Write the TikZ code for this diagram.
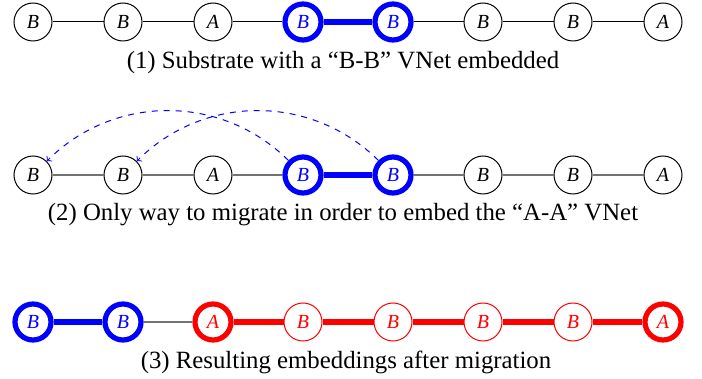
\documentclass[tikz,border=0pt]{standalone}
\usepackage{fontspec}
\setmainfont{Liberation Serif}
\usetikzlibrary{positioning}

\tikzset{
  vnode/.style={circle,draw=black,line width=0.5pt,minimum size=19pt,inner sep=0pt,font=\fontsize{10}{12}\selectfont\itshape},
  bnode/.style={vnode,draw=blue,text=blue,line width=2.6pt,minimum size=18pt},
  anode/.style={vnode,draw=red,text=red,line width=2.6pt,minimum size=18pt},
  rnode/.style={vnode,draw=red,text=red},
  slink/.style={black,line width=0.5pt},
  glink/.style={black!55,line width=0.6pt},
  blink/.style={blue,line width=2.6pt},
  rlink/.style={red,line width=2.6pt},
  mlink/.style={blue,dashed,line width=0.5pt,->},
  caption/.style={font=\fontsize{12.4}{15}\selectfont,text=black,anchor=center}
}

\begin{document}
\begin{tikzpicture}[x=0.5pt,y=-0.5pt]
\useasboundingbox (0,0) rectangle (702,379);

% (1) substrate with B-B embedded
\node[vnode] (a1) at (33,22) {B};
\node[vnode] (a2) at (123,22) {B};
\node[vnode] (a3) at (213,22) {A};
\node[bnode] (a4) at (303,22) {B};
\node[bnode] (a5) at (393,22) {B};
\node[vnode] (a6) at (483,22) {B};
\node[vnode] (a7) at (573,22) {B};
\node[vnode] (a8) at (663,22) {A};
\draw[slink] (a1) -- (a2);
\draw[slink] (a2) -- (a3);
\draw[slink] (a3) -- (a4);
\draw[blink] (a4) -- (a5);
\draw[slink] (a5) -- (a6);
\draw[slink] (a6) -- (a7);
\draw[slink] (a7) -- (a8);
\node[caption] (capa) at (343,63) {(1) Substrate with a “B-B” VNet embedded};

% (2) migration
\node[vnode] (b1) at (33,175) {B};
\node[vnode] (b2) at (123,175) {B};
\node[vnode] (b3) at (213,175) {A};
\node[bnode] (b4) at (303,175) {B};
\node[bnode] (b5) at (393,175) {B};
\node[vnode] (b6) at (483,175) {B};
\node[vnode] (b7) at (573,175) {B};
\node[vnode] (b8) at (663,175) {A};
\draw[glink] (b1) -- (b2);
\draw[glink] (b2) -- (b3);
\draw[glink] (b3) -- (b4);
\draw[blink] (b4) -- (b5);
\draw[glink] (b5) -- (b6);
\draw[glink] (b6) -- (b7);
\draw[glink] (b7) -- (b8);
\draw[mlink] (b4) to[bend right=45] (b1);
\draw[mlink] (b5) to[bend right=45] (b2);
\node[caption] (capb) at (343,215) {(2) Only way to migrate in order to embed the “A-A” VNet};

% (3) after migration
\node[bnode] (c1) at (33,322) {B};
\node[bnode] (c2) at (123,322) {B};
\node[anode] (c3) at (213,322) {A};
\node[rnode] (c4) at (303,322) {B};
\node[rnode] (c5) at (393,322) {B};
\node[rnode] (c6) at (483,322) {B};
\node[rnode] (c7) at (573,322) {B};
\node[anode] (c8) at (663,322) {A};
\draw[blink] (c1) -- (c2);
\draw[glink] (c2) -- (c3);
\draw[rlink] (c3) -- (c4);
\draw[rlink] (c4) -- (c5);
\draw[rlink] (c5) -- (c6);
\draw[rlink] (c6) -- (c7);
\draw[rlink] (c7) -- (c8);
\node[caption] (capc) at (346,362) {(3) Resulting embeddings after migration};

\end{tikzpicture}
\end{document}
